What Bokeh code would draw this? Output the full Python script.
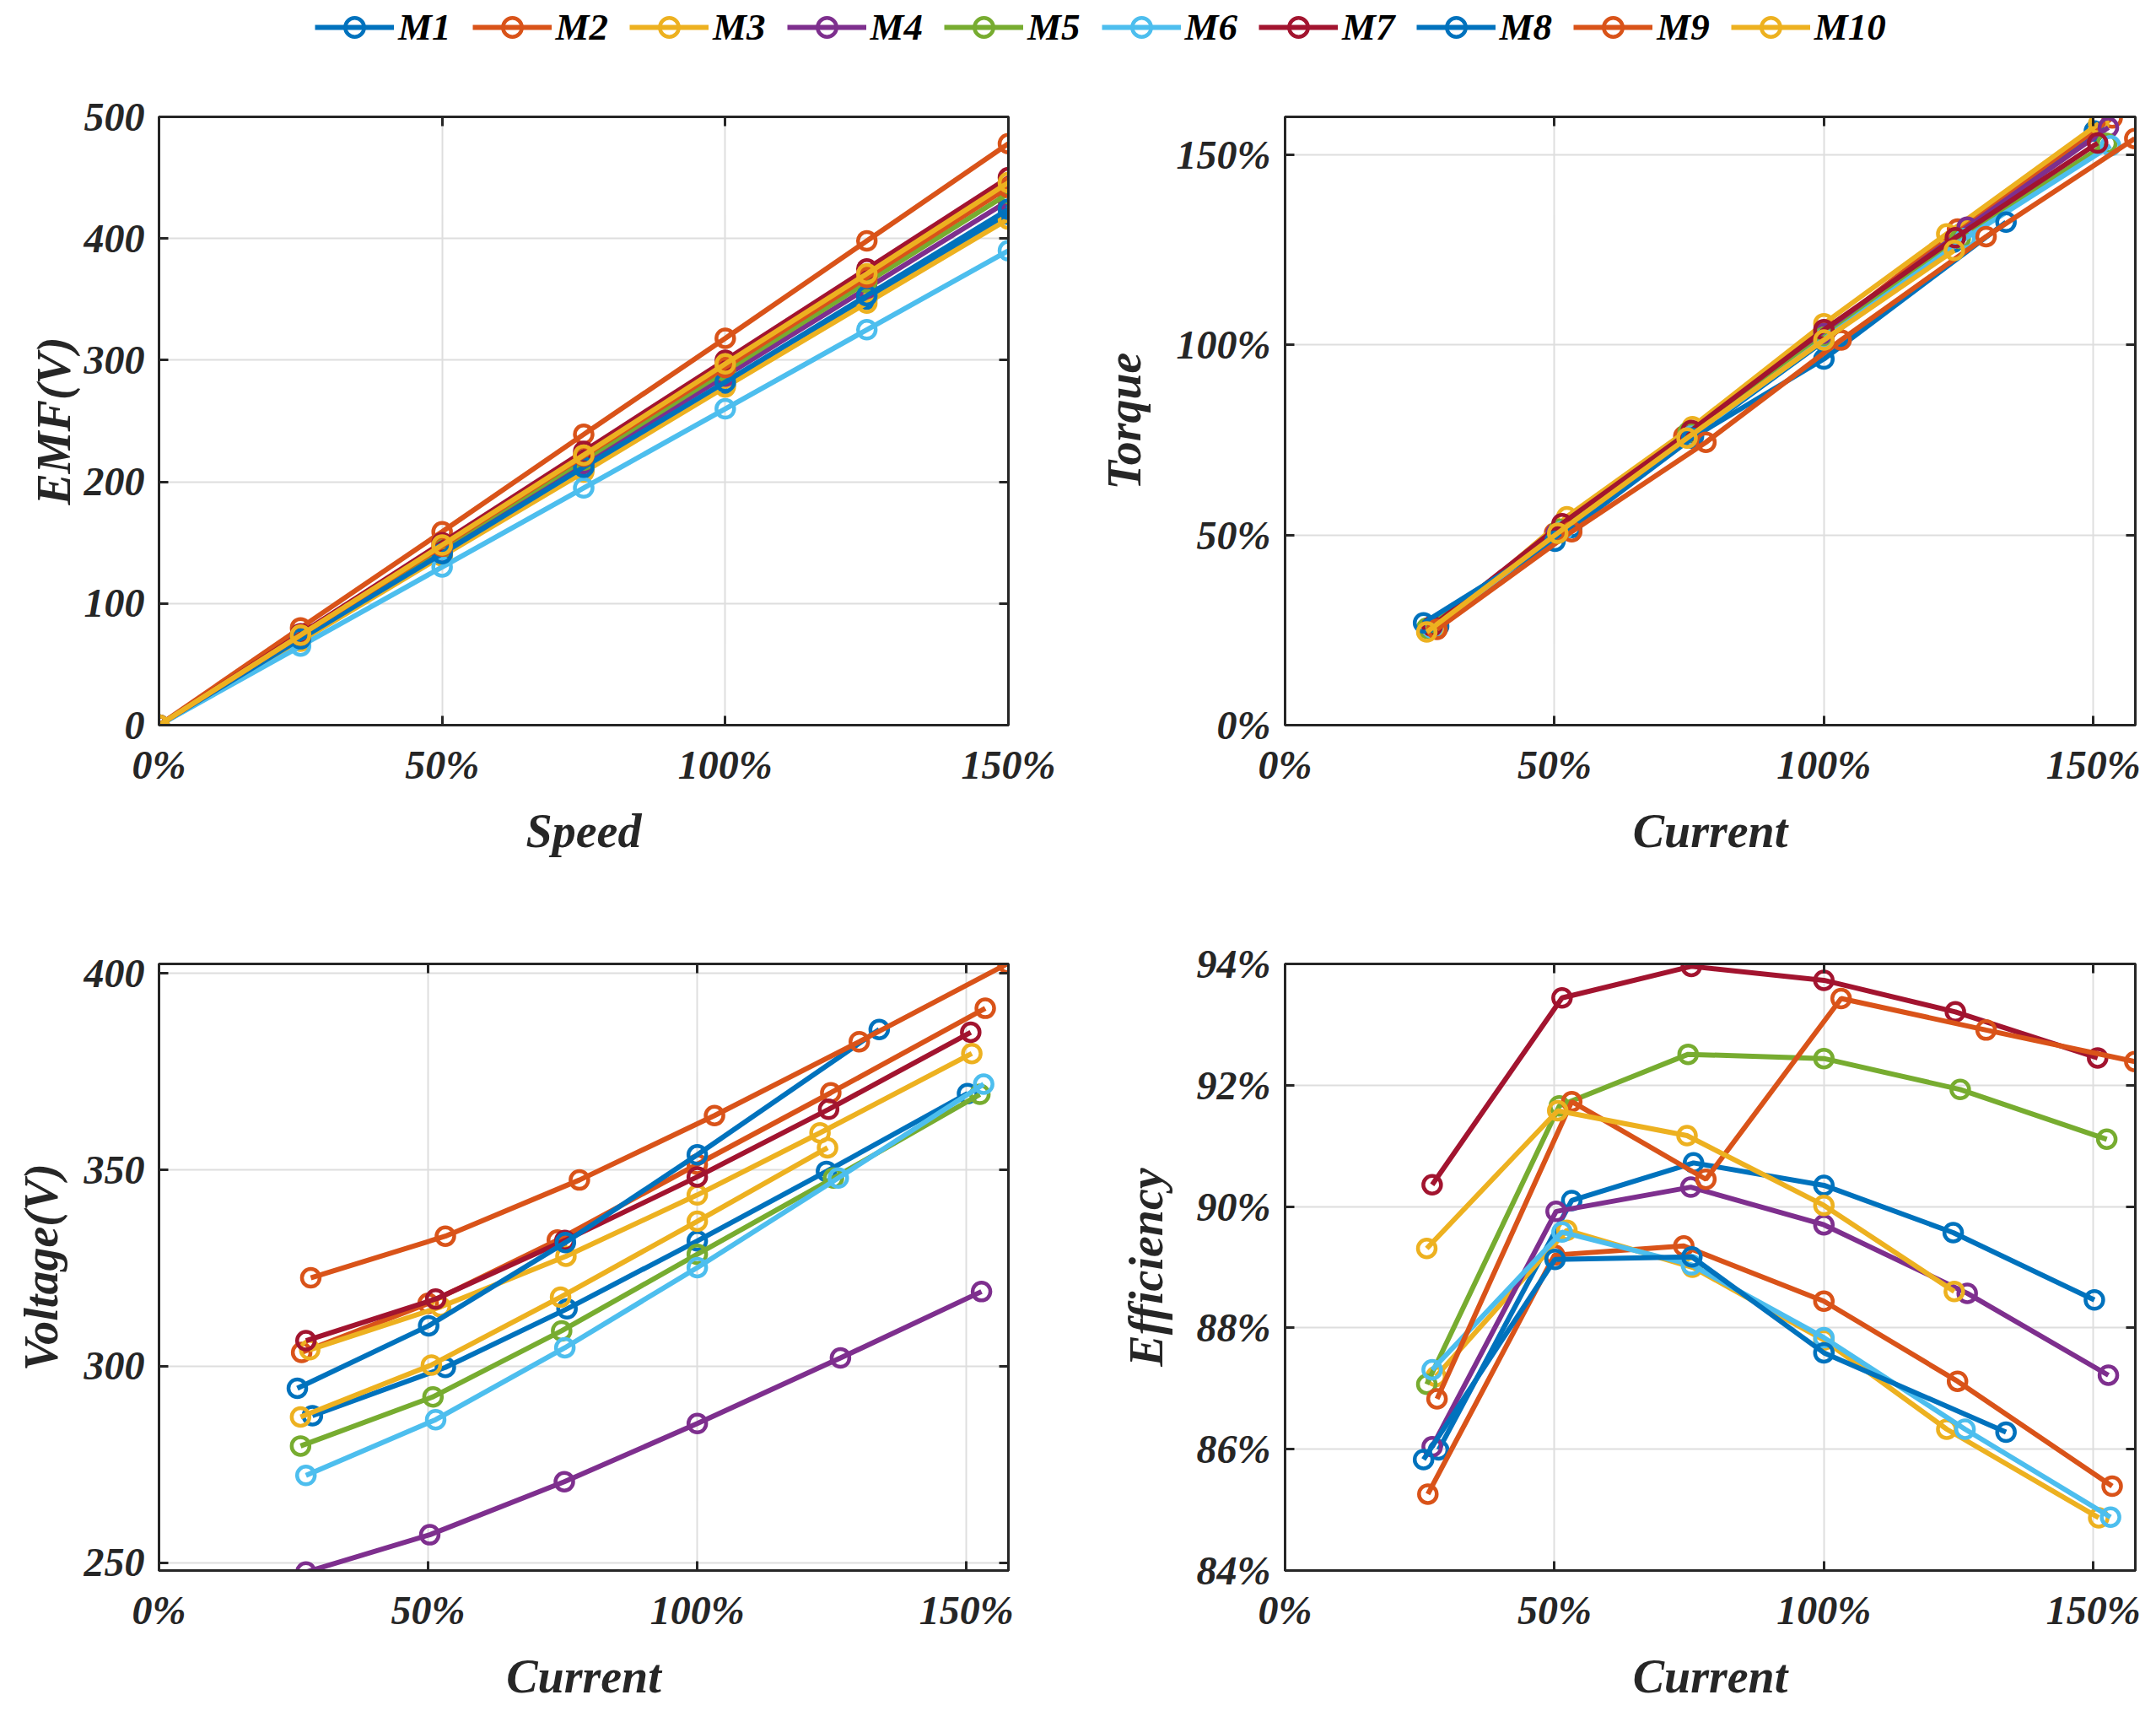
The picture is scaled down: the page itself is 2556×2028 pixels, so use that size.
from bokeh.plotting import figure
from bokeh.models import (Range1d, FixedTicker, PrintfTickFormatter, LinearAxis,
                          Legend, LegendItem, ColumnDataSource, CustomJSTickFormatter)
from bokeh.layouts import column, row
from bokeh.embed import file_html
from bokeh.resources import INLINE

# ---------------- data ----------------
names = ["M1", "M2", "M3", "M4", "M5", "M6", "M7", "M8", "M9", "M10"]
colors = ["#0072BD", "#D95319", "#EDB120", "#7E2F8E", "#77AC30",
          "#4DBEEE", "#A2142F", "#0072BD", "#D95319", "#EDB120"]

speed = [0, 25, 50, 75, 100, 125, 150]
emf_M1 = [0, 70, 140, 210, 280, 350, 420]
emf_M2 = [0, 80, 159, 239, 318, 398, 478]
emf_M3 = [0, 69, 139, 208, 278, 347, 416]
emf_M4 = [0, 72, 144, 215, 287, 359, 431]
emf_M5 = [0, 73, 146, 218, 291, 364, 437]
emf_M6 = [0, 65, 130, 195, 260, 325, 390]
emf_M7 = [0, 75, 150, 225, 300, 375, 450]
emf_M8 = [0, 71, 141, 212, 282, 353, 424]
emf_M9 = [0, 74, 147, 221, 294, 368, 442]
emf_M10 = [0, 74, 148, 222, 297, 371, 446]

cur_M1 = [28.5, 53.2, 75.8, 100, 124.0, 150.2]
cur_M2 = [26.5, 50.0, 74.0, 100, 124.8, 153.5]
cur_M3 = [28.0, 52.3, 75.6, 100, 122.8, 151.0]
cur_M4 = [27.3, 50.3, 75.3, 100, 126.6, 152.8]
cur_M5 = [26.3, 50.9, 74.8, 100, 125.3, 152.5]
cur_M6 = [27.3, 51.4, 75.4, 100, 126.2, 153.2]
cur_M7 = [27.3, 51.4, 75.4, 100, 124.4, 150.8]
cur_M8 = [25.7, 50.1, 75.5, 100, 133.8]
cur_M9 = [28.2, 53.2, 78.1, 103.2, 130.1, 157.7]
cur_M10 = [26.3, 50.6, 74.6, 100, 124.2]

torque_M1 = [26.0, 52.0, 76.0, 101.0, 127.0, 156.3]
torque_M2 = [25.5, 50.5, 76.0, 103.0, 130.5, 159.7]
torque_M3 = [25.5, 54.8, 78.5, 105.6, 129.2, 158.2]
torque_M4 = [25.8, 50.5, 77.0, 103.0, 131.0, 157.2]
torque_M5 = [25.5, 51.5, 77.0, 102.0, 128.0, 153.0]
torque_M6 = [25.5, 51.0, 76.0, 101.5, 128.0, 152.4]
torque_M7 = [26.0, 53.0, 77.5, 104.0, 128.2, 153.1]
torque_M8 = [26.9, 48.4, 75.5, 96.3, 132.3]
torque_M9 = [25.2, 50.9, 74.4, 101.3, 128.5, 154.3]
torque_M10 = [24.5, 50.5, 75.5, 101.3, 124.9]

volt_M1 = [287.4, 299.7, 314.6, 331.9, 349.6, 369.4]
volt_M2 = [303.5, 316.0, 332.1, 351.4, 369.6, 391.1]
volt_M3 = [304.2, 315.1, 328.0, 343.6, 359.4, 379.6]
volt_M4 = [247.6, 257.1, 270.6, 285.4, 302.1, 319.0]
volt_M5 = [279.7, 292.2, 309.0, 328.5, 347.9, 369.2]
volt_M6 = [272.2, 286.4, 304.7, 325.1, 347.9, 371.8]
volt_M7 = [306.5, 317.1, 332.0, 348.2, 365.4, 385.0]
volt_M8 = [294.4, 310.3, 331.5, 353.8, 385.7]
volt_M9 = [322.5, 333.1, 347.4, 363.8, 382.6, 402.5]
volt_M10 = [287.1, 300.3, 317.6, 336.9, 355.6]

eff_M1 = [85.99, 90.10, 90.72, 90.35, 89.57, 88.46]
eff_M2 = [85.26, 89.20, 89.35, 88.44, 87.12, 85.39]
eff_M3 = [87.20, 89.61, 89.00, 87.80, 86.33, 84.87]
eff_M4 = [86.04, 89.92, 90.32, 89.70, 88.57, 87.22]
eff_M5 = [87.07, 91.66, 92.51, 92.44, 91.93, 91.11]
eff_M6 = [87.31, 89.58, 89.04, 87.84, 86.33, 84.88]
eff_M7 = [90.36, 93.44, 93.96, 93.73, 93.21, 92.45]
eff_M8 = [85.83, 89.13, 89.17, 87.59, 86.28]
eff_M9 = [86.83, 91.73, 90.45, 93.43, 92.91, 92.39]
eff_M10 = [89.31, 91.58, 91.17, 90.02, 88.60]

pct_ticks = [0, 50, 100, 150]
emf_ticks = [0, 100, 200, 300, 400, 500]
torque_ticks = [0, 50, 100, 150]
volt_ticks = [250, 300, 350, 400]
eff_ticks = [84, 86, 88, 90, 92, 94]

emf = [emf_M1, emf_M2, emf_M3, emf_M4, emf_M5, emf_M6, emf_M7, emf_M8, emf_M9, emf_M10]
cur = [cur_M1, cur_M2, cur_M3, cur_M4, cur_M5, cur_M6, cur_M7, cur_M8, cur_M9, cur_M10]
torque = [torque_M1, torque_M2, torque_M3, torque_M4, torque_M5, torque_M6, torque_M7,
          torque_M8, torque_M9, torque_M10]
volt = [volt_M1, volt_M2, volt_M3, volt_M4, volt_M5, volt_M6, volt_M7, volt_M8, volt_M9, volt_M10]
eff = [eff_M1, eff_M2, eff_M3, eff_M4, eff_M5, eff_M6, eff_M7, eff_M8, eff_M9, eff_M10]

# ---------------- style ----------------
FONT = "Liberation Serif"
AX = "#262626"
GRID = "#dedede"
LW = 6
MS = 21
MLW = 4.5


def style_axis(ax, ticks, fmt, label):
    ax.ticker = FixedTicker(ticks=ticks)
    if fmt:
        ax.formatter = PrintfTickFormatter(format=fmt)
    ax.axis_label = label
    ax.axis_label_text_font = FONT
    ax.axis_label_text_font_style = "bold italic"
    ax.axis_label_text_font_size = "56px"
    ax.axis_label_text_color = AX
    ax.major_label_text_font = FONT
    ax.major_label_text_font_style = "bold italic"
    ax.major_label_text_font_size = "48px"
    ax.major_label_text_color = AX
    ax.axis_line_color = AX
    ax.axis_line_width = 3
    ax.major_tick_line_color = AX
    ax.major_tick_line_width = 3
    ax.major_tick_in = 11
    ax.major_tick_out = 0
    ax.minor_tick_line_color = None


def box_axis(ticks):
    a = LinearAxis(ticker=FixedTicker(ticks=ticks),
                   formatter=CustomJSTickFormatter(code="return ''"))
    a.major_label_text_font_size = "10px"
    a.major_label_standoff = 0
    a.axis_line_color = AX
    a.axis_line_width = 3
    a.major_tick_line_color = AX
    a.major_tick_line_width = 3
    a.major_tick_in = 11
    a.major_tick_out = 0
    a.minor_tick_line_color = None
    return a


def make_fig(width, height, bl, br, bt, bb, xr, yr, xticks, yticks, yfmt, xlabel, ylabel,
             ylab_standoff):
    p = figure(width=width, height=height, output_backend="svg", toolbar_location=None,
               x_range=Range1d(*xr), y_range=Range1d(*yr),
               min_border_left=bl, min_border_right=br, min_border_top=bt, min_border_bottom=bb,
               background_fill_color="white", border_fill_color="white")
    p.outline_line_color = AX
    p.outline_line_width = 3
    style_axis(p.xaxis[0], xticks, "%d%%", xlabel)
    style_axis(p.yaxis[0], yticks, yfmt, ylabel)
    p.xaxis[0].major_label_standoff = 20
    p.xaxis[0].axis_label_standoff = 18
    p.yaxis[0].major_label_standoff = 17
    p.yaxis[0].axis_label_standoff = ylab_standoff
    p.add_layout(box_axis(xticks), "above")
    p.add_layout(box_axis(yticks), "right")
    p.xgrid.ticker = FixedTicker(ticks=xticks)
    p.ygrid.ticker = FixedTicker(ticks=yticks)
    for g in (p.xgrid[0], p.ygrid[0]):
        g.grid_line_color = GRID
        g.grid_line_width = 2
    return p


def draw(p, xs_list, ys_list):
    for i in range(len(names)):
        xs = xs_list[i] if isinstance(xs_list[0], list) else xs_list
        src = ColumnDataSource(data=dict(x=xs, y=ys_list[i]))
        p.line("x", "y", source=src, line_color=colors[i], line_width=LW)
        p.scatter("x", "y", source=src, marker="circle", size=MS, line_color=colors[i],
                  line_width=MLW, fill_color=None)


# ---------------- figures ----------------
p1 = make_fig(1290, 960, 188, 95, 50, 189, (0, 150), (0, 500), pct_ticks, emf_ticks, None,
              "Speed", "EMF(V)", 2)
p2 = make_fig(1258, 960, 233, 17, 50, 189, (0, 157.8), (0, 160), pct_ticks, torque_ticks, "%d%%",
              "Current", "Torque", 28)
p3 = make_fig(1290, 972, 188, 95, 94, 158, (0, 157.8), (248.0, 402.4), pct_ticks, volt_ticks, None,
              "Current", "Voltage(V)", 17)
p4 = make_fig(1258, 972, 233, 17, 94, 158, (0, 157.8), (84, 94), pct_ticks, eff_ticks, "%d%%",
              "Current", "Efficiency", 26)

draw(p1, speed, emf)
draw(p2, cur, torque)
draw(p3, cur, volt)
draw(p4, cur, eff)

# ---------------- legend strip ----------------
# the legend renderers hold the EMF series, but the strip's ranges keep them out of view
leg = figure(width=2548, height=88, output_backend="svg", toolbar_location=None,
             x_range=Range1d(-1000, -999), y_range=Range1d(-1000, -999), min_border=0,
             outline_line_color=None)
leg.axis.visible = False
leg.grid.visible = False
items = []
for i, n in enumerate(names):
    src = ColumnDataSource(data=dict(x=speed, y=emf[i]))
    l = leg.line("x", "y", source=src, line_color=colors[i], line_width=LW)
    s = leg.scatter("x", "y", source=src, marker="circle", size=MS, line_color=colors[i],
                    line_width=MLW, fill_color=None)
    items.append(LegendItem(label=n, renderers=[l, s]))
legend = Legend(items=items, orientation="horizontal", location=(373, 28),
                glyph_width=94, glyph_height=56, label_height=56, label_standoff=5, spacing=25,
                padding=0, margin=0, border_line_color=None, background_fill_alpha=0,
                label_text_font=FONT, label_text_font_style="bold italic",
                label_text_font_size="45px", label_text_color="black")
leg.add_layout(legend, "center")

layout = column(leg, row(p1, p2), row(p3, p4))

open("out.html", "w").write(file_html(layout, INLINE))
